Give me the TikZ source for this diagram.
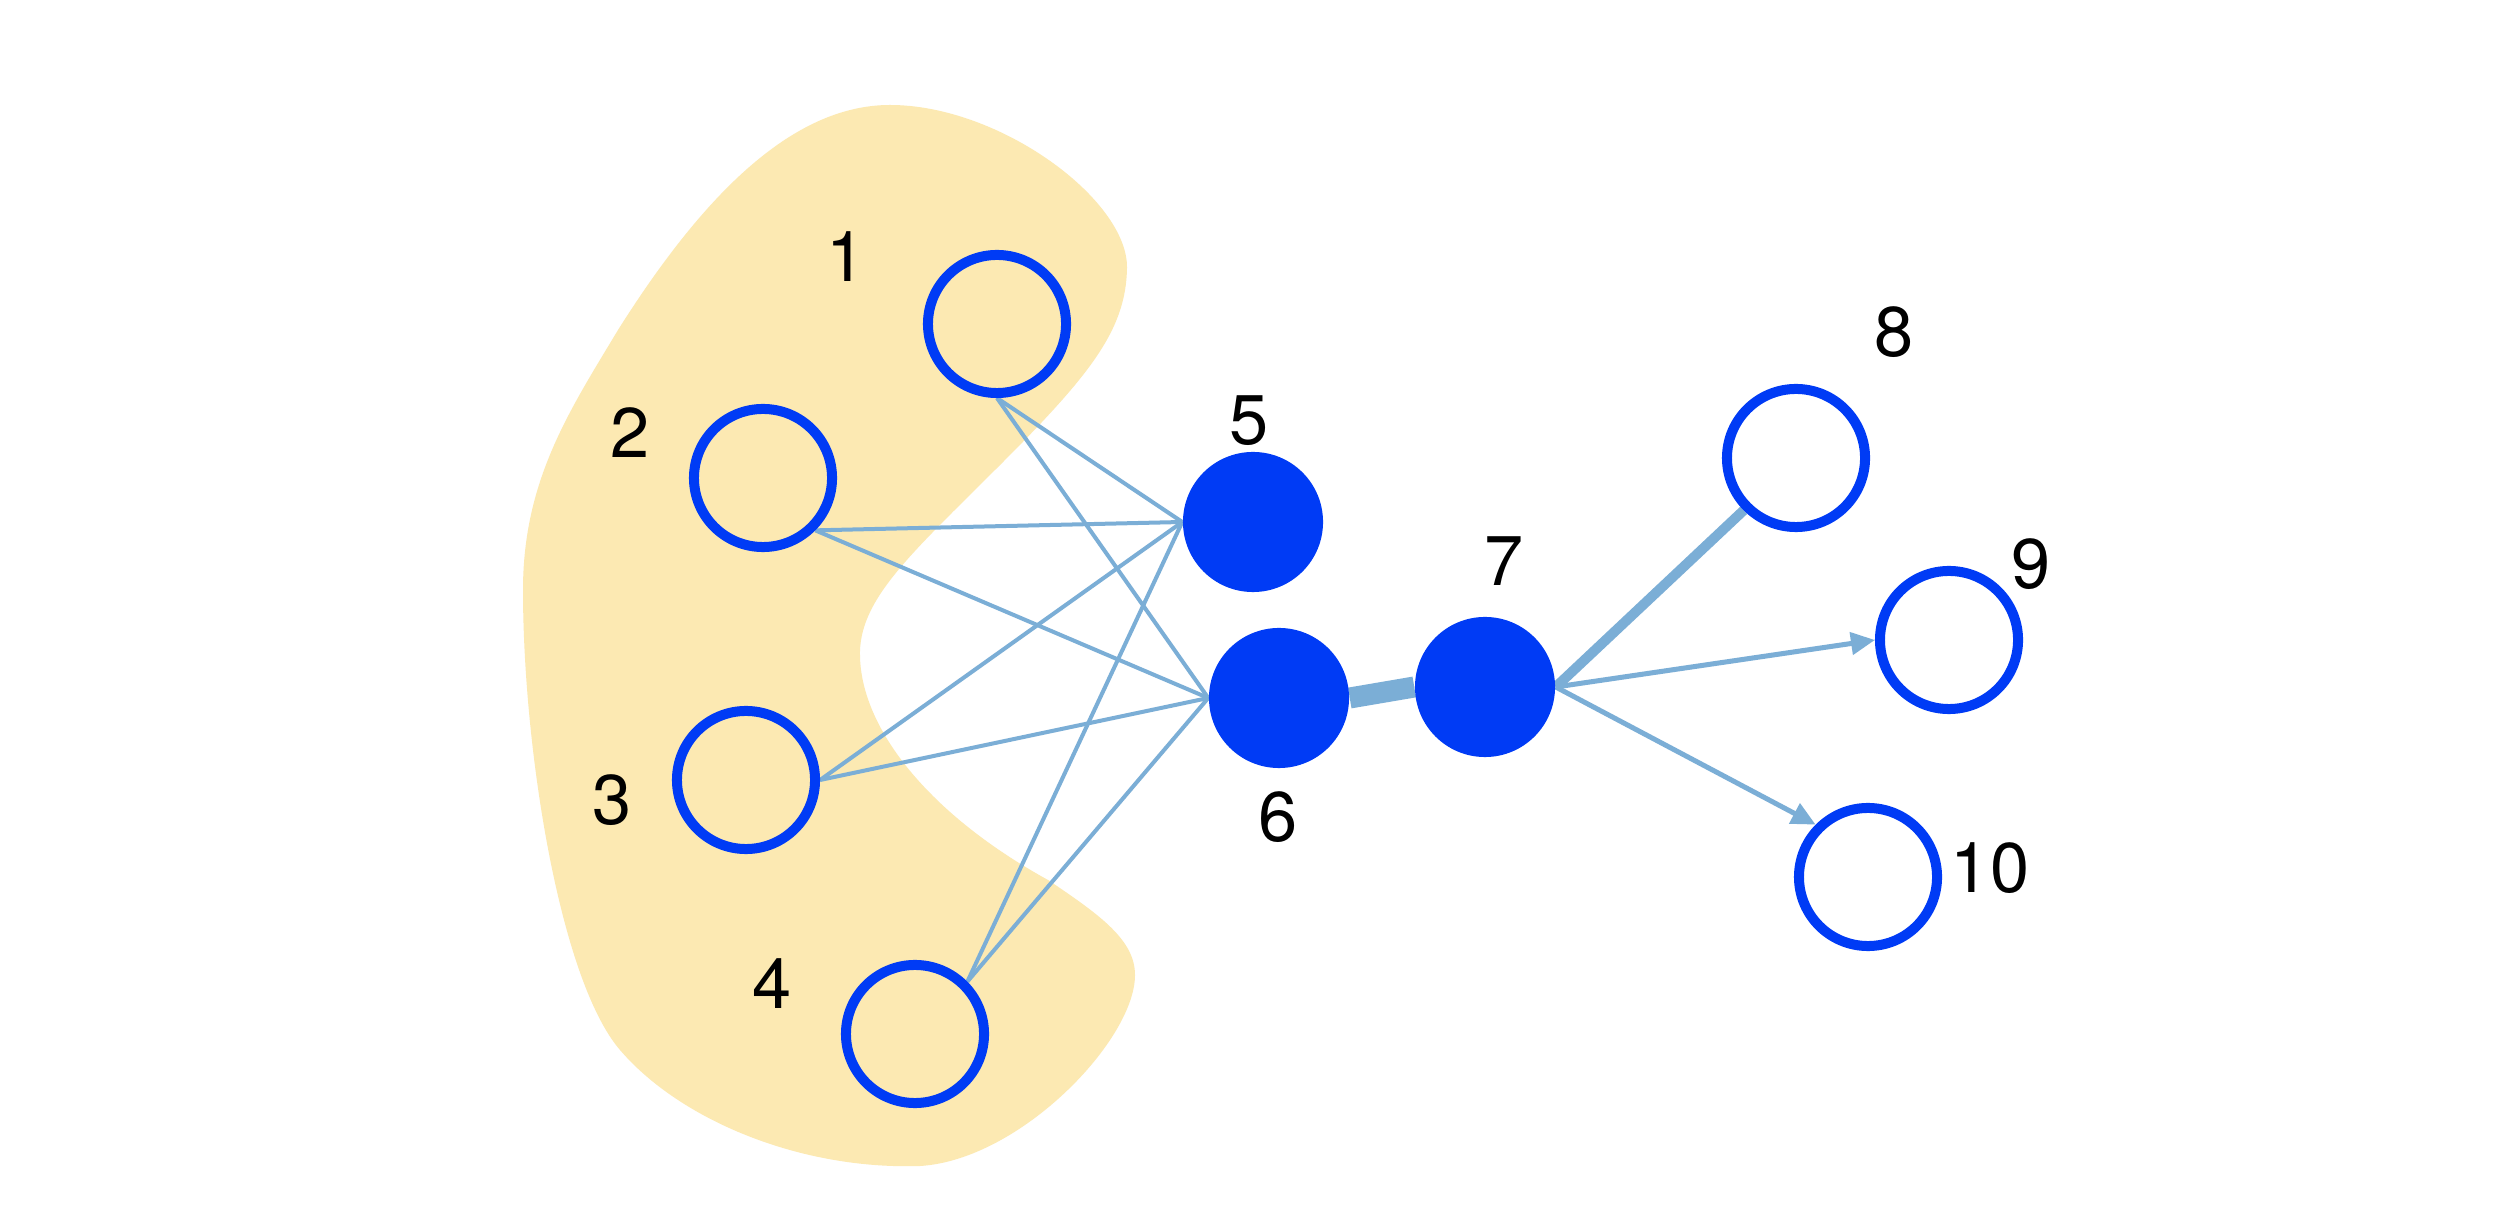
\documentclass[tikz,border=0pt]{standalone}
\usepackage{fontspec}
\setmainfont{TeX Gyre Heros}
\usetikzlibrary{arrows.meta,backgrounds}
\pgfdeclarelayer{blob}
\pgfsetlayers{blob,background,main}
\definecolor{nodeblue}{HTML}{003BF5}
\definecolor{edgeblue}{HTML}{7BAED6}
\definecolor{blobfill}{HTML}{FCE9B2}
\begin{document}
\begin{tikzpicture}[x=0.01cm,y=-0.01cm,
  opennode/.style={circle,draw=nodeblue,line width=0.1cm,minimum size=1.38cm,inner sep=0pt},
  fullnode/.style={circle,fill=nodeblue,minimum size=1.4cm,inner sep=0pt},
  lbl/.style={font=\fontsize{20}{24}\selectfont,inner sep=0pt,text=black},
  thinlink/.style={draw=edgeblue,line width=0.04cm},
  thicklink/.style={draw=edgeblue,line width=#1},
  arrowlink/.style={draw=edgeblue,line width=0.05cm,-{Triangle[length=0.24cm,width=0.22cm]}}]
\useasboundingbox (0,0) rectangle (2512,1210);

% nodes
\node[opennode] (n1) at (997,324) {};
\node[opennode] (n2) at (763,478) {};
\node[opennode] (n3) at (746,780) {};
\node[opennode] (n4) at (915,1034) {};
\node[fullnode] (n5) at (1253,522) {};
\node[fullnode] (n6) at (1279,698) {};
\node[fullnode] (n7) at (1485,687) {};
\node[opennode] (n8) at (1796,458) {};
\node[opennode] (n9) at (1949,640) {};
\node[opennode] (n10) at (1868,877) {};

% labels
\node[lbl] (l1) at (846,257) {1};
\node[lbl] (l2) at (630,433) {2};
\node[lbl] (l3) at (612,800) {3};
\node[lbl] (l4) at (772,984) {4};
\node[lbl] (l5) at (1249,421) {5};
\node[lbl] (l6) at (1278,817) {6};
\node[lbl] (l7) at (1504,561) {7};
\node[lbl] (l8) at (1894,332) {8};
\node[lbl] (l9) at (2031,564) {9};
\node[lbl] (l10) at (1990,868) {10};

% blob
\begin{pgfonlayer}{blob}
\fill[white] (0,0) rectangle (2512,1210);
\fill[blobfill] (618,330)
  .. controls (700,200) and (790,105) .. (890,105)
  .. controls (1000,105) and (1128,200) .. (1127,268)
  .. controls (1126,330) and (1090,375) .. (1000,465)
  .. controls (910,555) and (858,600) .. (860,657)
  .. controls (862,730) and (930,815) .. (1048,880)
  .. controls (1100,915) and (1135,940) .. (1135,975)
  .. controls (1135,1040) and (1020,1160) .. (920,1166)
  .. controls (800,1170) and (680,1120) .. (620,1050)
  .. controls (560,980) and (523,750) .. (523,590)
  .. controls (523,480) and (570,410) .. (618,330)
  -- cycle;
\end{pgfonlayer}

% edges
\begin{pgfonlayer}{background}
\draw[thinlink] (n1.south) -- (n5.west);
\draw[thinlink] (n1.south) -- (n6.west);
\draw[thinlink] (n2.south east) -- (n5.west);
\draw[thinlink] (n2.south east) -- (n6.west);
\draw[thinlink] (n3.east) -- (n5.west);
\draw[thinlink] (n3.east) -- (n6.west);
\draw[thinlink] (n4.north east) -- (n5.west);
\draw[thinlink] (n4.north east) -- (n6.west);
\draw[thicklink=0.21cm] (n6.east) -- (n7.west);
\draw[thicklink=0.1cm] (n7.east) -- (n8.south west);
\draw[arrowlink] (n7.east) -- (n9.west);
\draw[arrowlink] (n7.east) -- (n10.north west);
\end{pgfonlayer}
\end{tikzpicture}
\end{document}
